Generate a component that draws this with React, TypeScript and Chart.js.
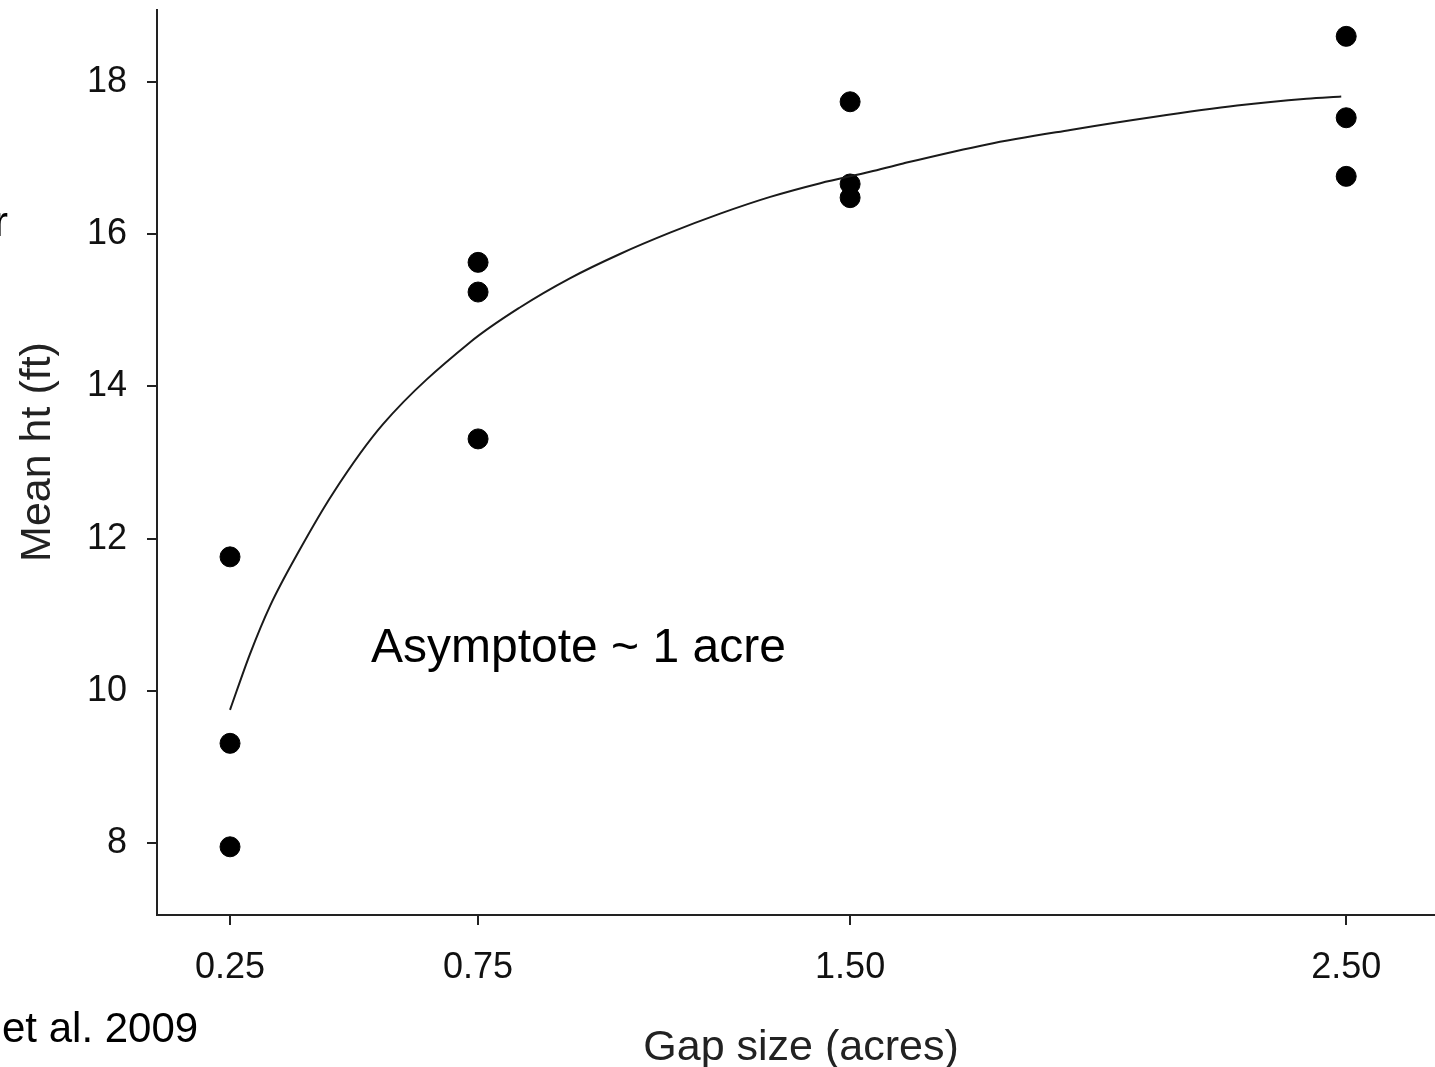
import React, { useEffect, useRef } from "react";
import Chart from "chart.js/auto";

const gapSizes = [0.25, 0.25, 0.25, 0.75, 0.75, 0.75, 1.5, 1.5, 1.5, 2.5, 2.5, 2.5];
const meanHeights = [11.76, 9.31, 7.95, 15.63, 15.24, 13.31, 17.74, 16.66, 16.48, 18.6, 17.53, 16.76];

const curveX = [0.25, 0.29, 0.331, 0.391, 0.458, 0.558, 0.734, 0.835, 0.935, 1.036, 1.137, 1.238, 1.339, 1.44, 1.54, 1.607, 1.776, 1.944, 2.111, 2.28, 2.42, 2.49];
const curveY = [9.75, 10.48, 11.12, 11.86, 12.6, 13.5, 14.58, 15.04, 15.42, 15.74, 16.02, 16.27, 16.49, 16.67, 16.82, 16.93, 17.18, 17.37, 17.54, 17.69, 17.78, 17.81];

const xTicks = [0.25, 0.75, 1.5, 2.5];
const xTickLabels = ["0.25", "0.75", "1.50", "2.50"];
const yTicks = [8, 10, 12, 14, 16, 18];

const xTitle = "Gap size (acres)";
const yTitle = "Mean ht (ft)";
const annotation = "Asymptote ~ 1 acre";
const sourceText = "et al. 2009";
const clippedText = "r";

const FONT = "'Liberation Sans', Arial, sans-serif";

export default function App() {
  const ref = useRef<HTMLCanvasElement | null>(null);

  useEffect(() => {
    if (!ref.current) return;
    const textPlugin = {
      id: "texts",
      afterDraw(chart: any) {
        const ctx = chart.ctx;
        ctx.save();
        ctx.fillStyle = "#222";
        ctx.font = `43px ${FONT}`;
        ctx.textAlign = "center";
        ctx.textBaseline = "alphabetic";
        ctx.fillText(xTitle, 801, 1060);
        ctx.save();
        ctx.translate(50, 452);
        ctx.rotate(-Math.PI / 2);
        ctx.fillText(yTitle, 0, 0);
        ctx.restore();
        ctx.fillStyle = "#000";
        ctx.font = `48px ${FONT}`;
        ctx.textAlign = "left";
        ctx.fillText(annotation, 371, 662);
        ctx.font = `42px ${FONT}`;
        ctx.fillText(sourceText, 2, 1042);
        ctx.textAlign = "right";
        ctx.fillText(clippedText, 8, 236);
        ctx.restore();
      },
    };

    const zeroPad = (scale: any) => {
      scale.paddingTop = 0;
      scale.paddingBottom = 0;
      scale.paddingLeft = 0;
      scale.paddingRight = 0;
    };

    const chart = new Chart(ref.current, {
      data: {
        datasets: [
          {
            type: "line",
            data: curveX.map((x, i) => ({ x, y: curveY[i] })),
            borderColor: "#1a1a1a",
            borderWidth: 2,
            pointRadius: 0,
            cubicInterpolationMode: "monotone",
            fill: false,
          },
          {
            type: "scatter",
            data: gapSizes.map((x, i) => ({ x, y: meanHeights[i] })),
            backgroundColor: "#000",
            borderColor: "#000",
            pointRadius: 10,
            pointHoverRadius: 10,
          },
        ],
      },
      options: {
        animation: false,
        responsive: false,
        devicePixelRatio: 1,
        layout: { autoPadding: false, padding: { top: 10, left: 0, right: 0, bottom: 0 } },
        plugins: { legend: { display: false }, tooltip: { enabled: false } },
        scales: {
          x: {
            type: "linear",
            min: 0.1028,
            max: 2.679,
            afterFit(scale: any) {
              scale.height = 152;
              zeroPad(scale);
            },
            afterBuildTicks(scale: any) {
              scale.ticks = xTicks.map((v) => ({ value: v }));
            },
            ticks: {
              autoSkip: false,
              maxRotation: 0,
              padding: 21,
              color: "#111",
              font: { family: FONT, size: 36 },
              callback: (v: any) => {
                const i = xTicks.indexOf(Number(v));
                return i >= 0 ? xTickLabels[i] : "";
              },
            },
            grid: { drawOnChartArea: false, tickLength: 10, tickColor: "#222", lineWidth: 2 },
            border: { color: "#222", width: 2 },
          },
          y: {
            type: "linear",
            min: 7.054,
            max: 18.946,
            afterFit(scale: any) {
              scale.width = 157;
              zeroPad(scale);
            },
            afterBuildTicks(scale: any) {
              scale.ticks = yTicks.map((v) => ({ value: v }));
            },
            ticks: {
              autoSkip: false,
              padding: 20,
              color: "#111",
              font: { family: FONT, size: 36 },
              callback: (v: any) => String(v),
            },
            grid: { drawOnChartArea: false, tickLength: 10, tickColor: "#222", lineWidth: 2 },
            border: { color: "#222", width: 2 },
          },
        },
      },
      plugins: [textPlugin],
    } as any);
    return () => chart.destroy();
  }, []);

  return (
    <canvas
      ref={ref}
      width={1435}
      height={1067}
      style={{ position: "fixed", left: 0, top: 0, width: 1435, height: 1067, background: "#fff" }}
    />
  );
}
